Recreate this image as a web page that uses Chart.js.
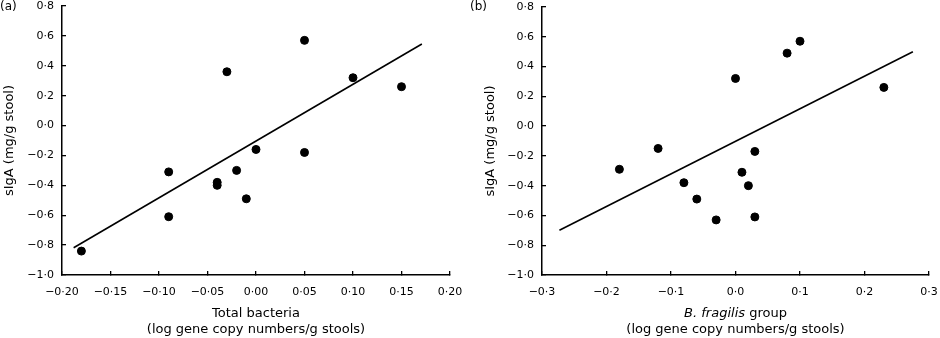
<!DOCTYPE html>
<html>
<head>
<meta charset="utf-8">
<script src="https://cdn.jsdelivr.net/npm/chart.js@4.4.1/dist/chart.umd.min.js"></script>
<style>
  body { margin: 0; background: #fff; }
  #wrap { position: relative; width: 940px; height: 338px; }
  canvas { position: absolute; top: 0; }
</style>
</head>
<body>
<div id="wrap">
  <canvas id="panelA" width="470" height="338" style="left:0"></canvas>
  <canvas id="panelB" width="470" height="338" style="left:470px"></canvas>
</div>
<script>
// (a) total bacteria vs sIgA
const bacteriaX = [-0.18, -0.09, -0.09, -0.04, -0.04, -0.03, -0.02, -0.01, 0.00, 0.05, 0.05, 0.10, 0.15];
const sigaA = [-0.84, -0.31, -0.61, -0.38, -0.40, 0.36, -0.30, -0.49, -0.16, 0.57, -0.18, 0.32, 0.26];
const fitAX = [-0.188, 0.171];
const fitAY = [-0.818, 0.546];
const xTicksA = [-0.20, -0.15, -0.10, -0.05, 0.00, 0.05, 0.10, 0.15, 0.20];

// (b) B. fragilis group vs sIgA
const fragilisX = [-0.18, -0.12, -0.08, -0.06, -0.03, 0.00, 0.01, 0.02, 0.03, 0.03, 0.08, 0.10, 0.23];
const sigaB = [-0.29, -0.15, -0.38, -0.49, -0.63, 0.32, -0.31, -0.40, -0.17, -0.61, 0.49, 0.57, 0.26];
const fitBX = [-0.273, 0.275];
const fitBY = [-0.70, 0.50];
const xTicksB = [-0.3, -0.2, -0.1, 0.0, 0.1, 0.2, 0.3];

const yTicks = [-1.0, -0.8, -0.6, -0.4, -0.2, 0.0, 0.2, 0.4, 0.6, 0.8];

const FONT = "'DejaVu Sans', Verdana, sans-serif";
Chart.defaults.font.family = FONT;
Chart.defaults.color = '#000';

// 0.05 -> "0·05", -0.2 -> "−0·2"
function fmt(v, digits) {
    return v.toFixed(digits).replace('.', '·').replace('-', '−');
}

// panel letter and two-line x title (segments may be italic)
const panelText = {
    id: 'panelText',
    afterDraw(chart, args, opts) {
        const { ctx, chartArea } = chart;
        ctx.save();
        ctx.fillStyle = '#000';
        ctx.textBaseline = 'alphabetic';
        ctx.textAlign = 'left';
        ctx.font = '12px ' + FONT;
        ctx.fillText(opts.letter, 0, 10);

        const cx = (chartArea.left + chartArea.right) / 2;
        opts.xTitle.forEach((line, i) => {
            const fonts = line.map(seg => (seg[1] ? 'italic ' : '') + '13px ' + FONT);
            let total = 0;
            line.forEach((seg, j) => { ctx.font = fonts[j]; total += ctx.measureText(seg[0]).width; });
            let x = cx - total / 2;
            line.forEach((seg, j) => {
                ctx.font = fonts[j];
                ctx.fillText(seg[0], x, opts.titleY[i]);
                x += ctx.measureText(seg[0]).width;
            });
        });
        ctx.restore();
    }
};

function makePanel(id, xs, ys, fitX, fitY, xTicks, xDigits, pad, yWidth, letter, xTitle) {
    const pts = xs.map((x, i) => ({ x: x, y: ys[i] }));
    const fit = fitX.map((x, i) => ({ x: x, y: fitY[i] }));

    new Chart(document.getElementById(id), {
        type: 'scatter',
        data: {
            datasets: [
                {
                    data: pts,
                    backgroundColor: '#000',
                    borderColor: '#000',
                    pointRadius: 4,
                    pointHoverRadius: 4
                },
                {
                    data: fit,
                    showLine: true,
                    borderColor: '#000',
                    borderWidth: 1.6,
                    pointRadius: 0,
                    pointHoverRadius: 0
                }
            ]
        },
        options: {
            responsive: false,
            animation: false,
            devicePixelRatio: 1,
            layout: { padding: pad },
            plugins: {
                legend: { display: false },
                tooltip: { enabled: false },
                panelText: { letter: letter, xTitle: xTitle, titleY: [317, 333] }
            },
            scales: {
                x: {
                    type: 'linear',
                    min: xTicks[0],
                    max: xTicks[xTicks.length - 1],
                    afterBuildTicks: s => { s.ticks = xTicks.map(v => ({ value: v })); },
                    afterFit: s => { s.height = 63; s.paddingLeft = 0; s.paddingRight = 0; },
                    border: { display: true, color: '#000', width: 1.5 },
                    grid: { drawOnChartArea: false, drawTicks: true, tickLength: -4, color: '#000', lineWidth: 1.3 },
                    ticks: {
                        padding: 15,
                        maxRotation: 0,
                        autoSkip: false,
                        font: { size: 11 },
                        callback: v => fmt(v, xDigits)
                    }
                },
                y: {
                    type: 'linear',
                    min: -1.0,
                    max: 0.8,
                    afterBuildTicks: s => { s.ticks = yTicks.map(v => ({ value: v })); },
                    afterFit: s => { s.width = yWidth; s.paddingTop = 0; s.paddingBottom = 0; },
                    border: { display: true, color: '#000', width: 1.5 },
                    grid: { drawOnChartArea: false, drawTicks: true, tickLength: -4, color: '#000', lineWidth: 1.3 },
                    ticks: {
                        padding: 12,
                        autoSkip: false,
                        font: { size: 11 },
                        callback: v => fmt(v, 1)
                    },
                    title: {
                        display: true,
                        text: 'sIgA (mg/g stool)',
                        font: { size: 13 },
                        padding: { top: 2, bottom: 0 }
                    }
                }
            }
        },
        plugins: [panelText]
    });
}

makePanel('panelA', bacteriaX, sigaA, fitAX, fitAY, xTicksA, 2,
    { left: 0, right: 20, top: 6, bottom: 0 }, 62, '(a)',
    [[['Total bacteria', false]], [['(log gene copy numbers/g stools)', false]]]);

makePanel('panelB', fragilisX, sigaB, fitBX, fitBY, xTicksB, 1,
    { left: 11, right: 11, top: 7, bottom: 0 }, 61, '(b)',
    [[['B. fragilis', true], [' group', false]], [['(log gene copy numbers/g stools)', false]]]);
</script>
</body>
</html>
